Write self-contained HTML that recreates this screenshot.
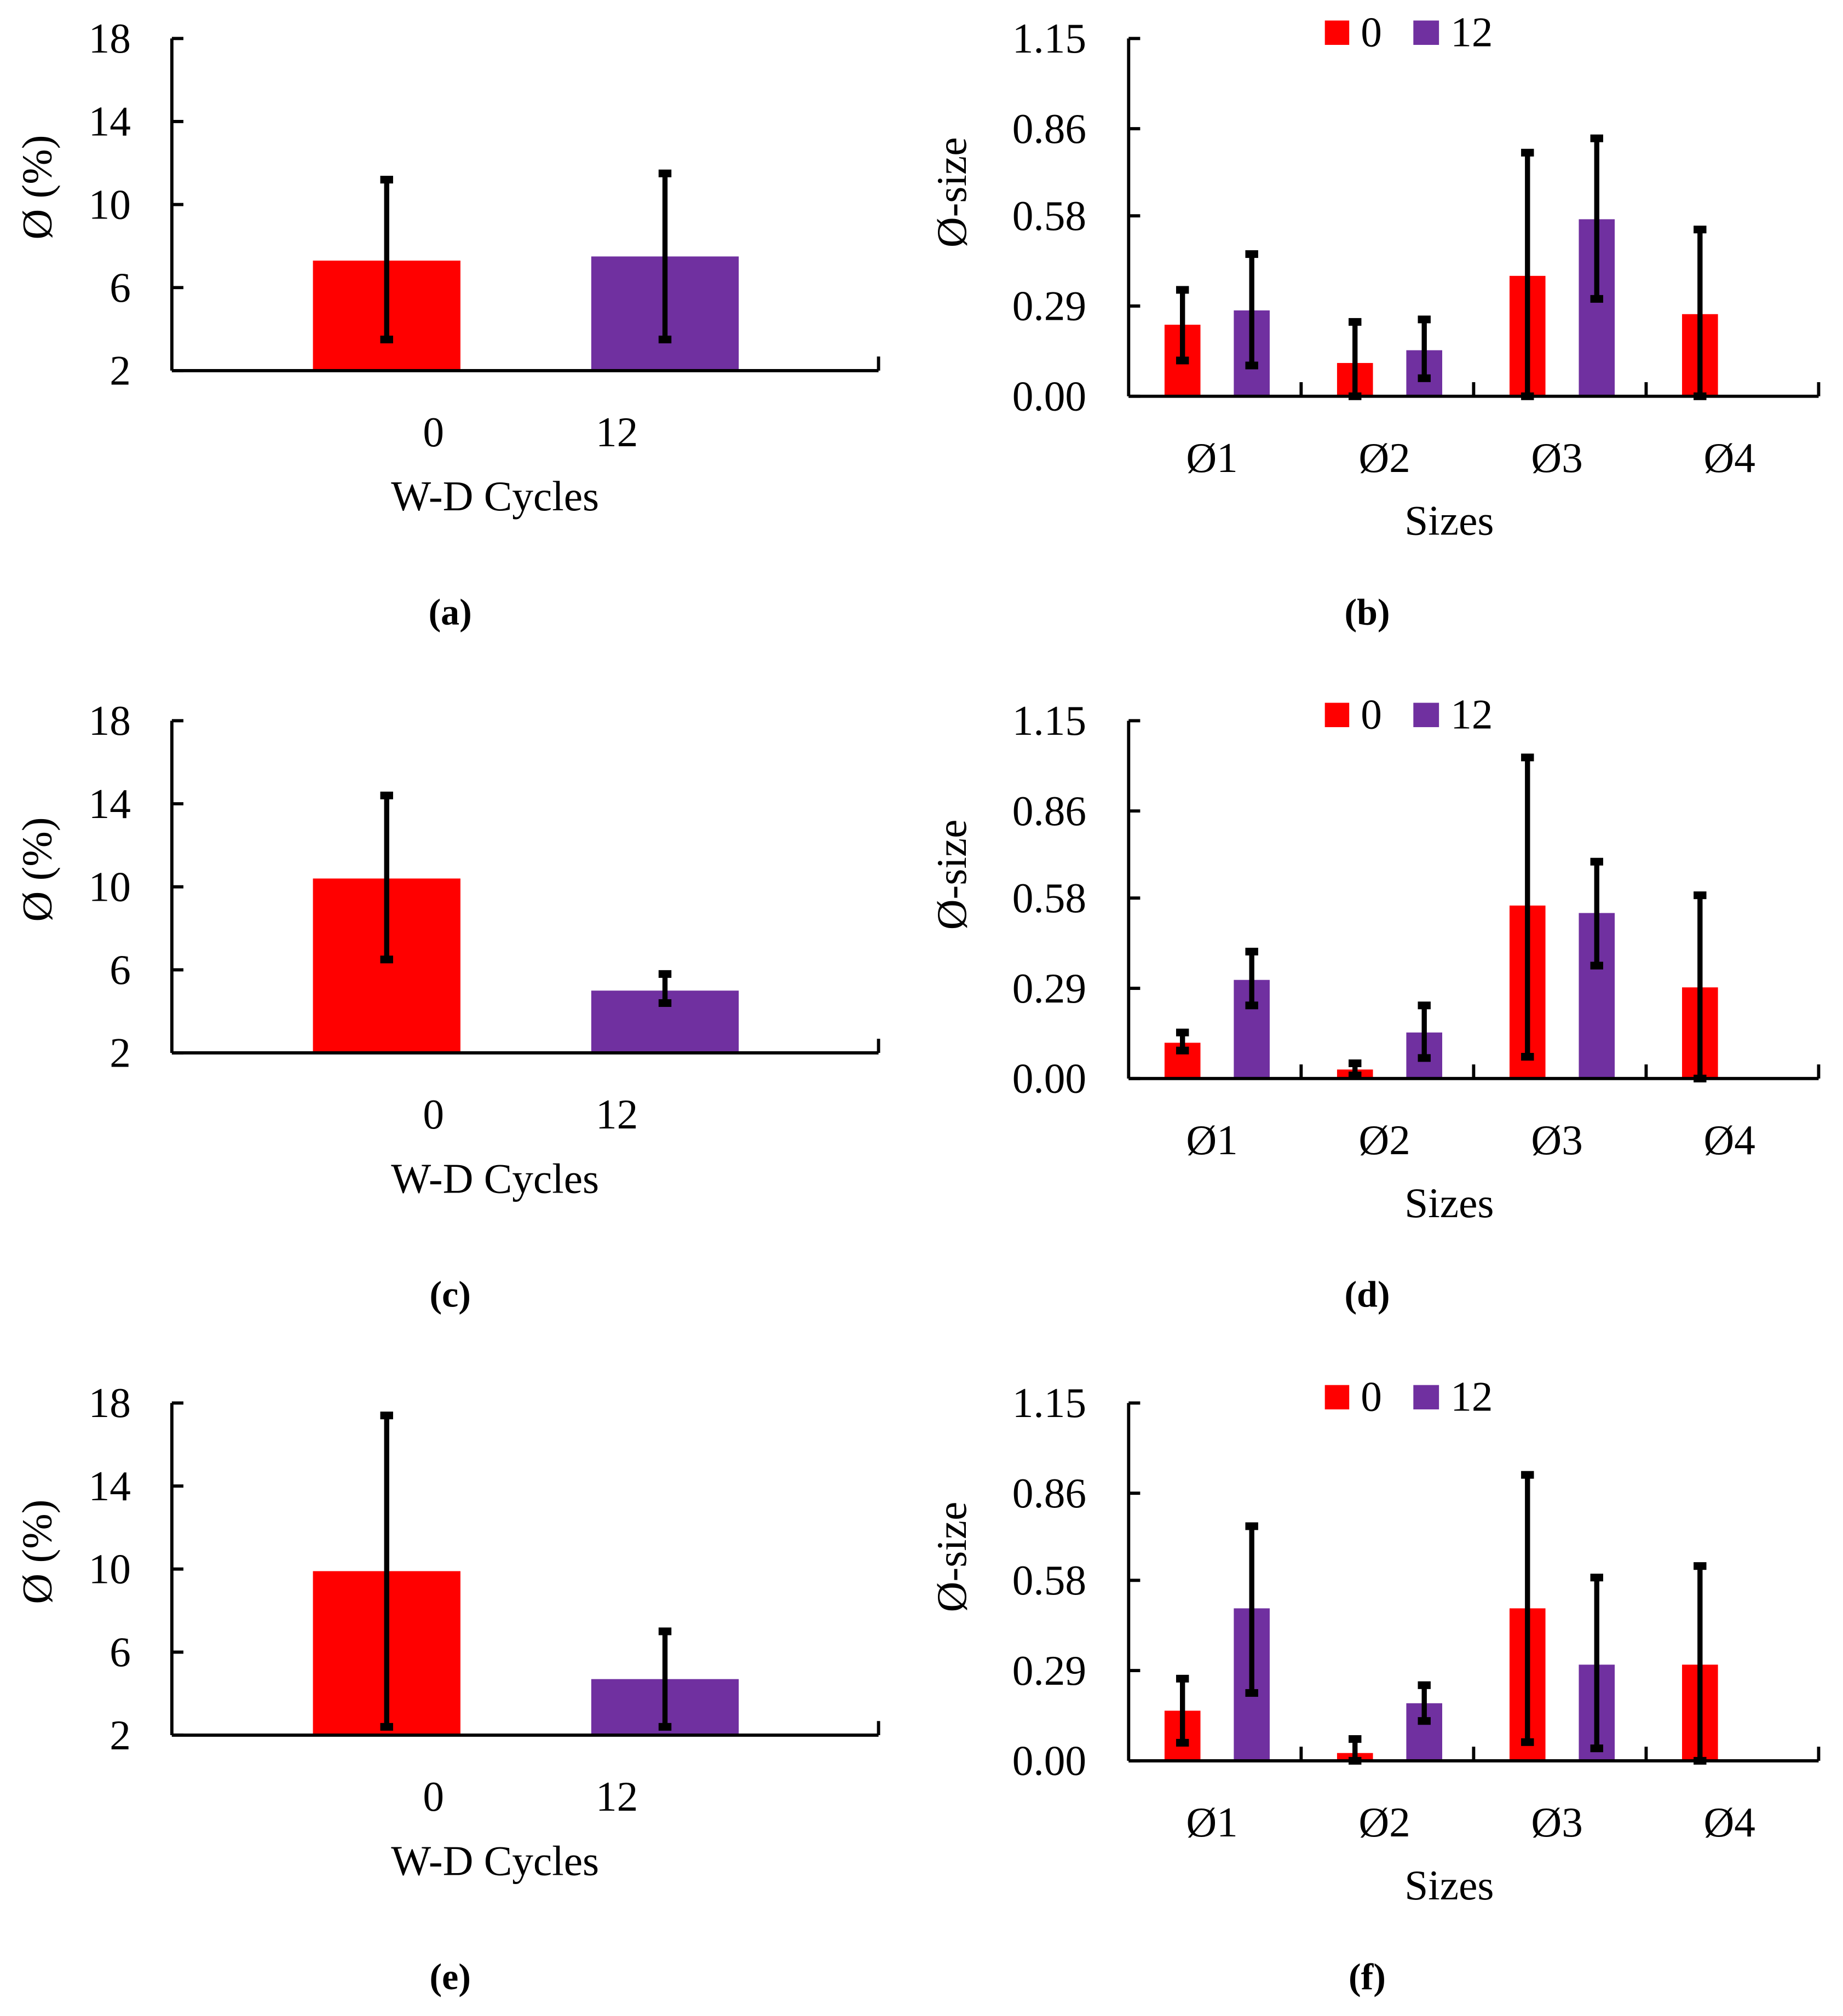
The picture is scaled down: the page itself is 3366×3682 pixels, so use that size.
<!DOCTYPE html>
<html><head><meta charset="utf-8"><style>
html,body{margin:0;padding:0;background:#fff}
svg{display:block}
text{font-family:"Liberation Serif","DejaVu Serif",serif;fill:#000}
</style></head><body>
<svg id="fig" width="3366" height="3682" viewBox="0 0 1437 1572" preserveAspectRatio="none" xmlns="http://www.w3.org/2000/svg"></svg>
<script>
// Left panels (a),(c),(e): porosity by W-D cycles
const cycleCats = ["0", "12"];
const leftTicks = [2, 6, 10, 14, 18];
const porosityA = [7.3, 7.5];
const porosityAErrLo = [3.5, 3.5];
const porosityAErrHi = [11.2, 11.5];
const porosityC = [10.4, 5.0];
const porosityCErrLo = [6.5, 4.4];
const porosityCErrHi = [14.4, 5.8];
const porosityE = [9.9, 4.7];
const porosityEErrLo = [2.4, 2.4];
const porosityEErrHi = [17.4, 7.0];
// Right panels (b),(d),(f): size distribution
const sizeCats = ["Ø1", "Ø2", "Ø3", "Ø4"];
const rightTicks = ["0.00", "0.29", "0.58", "0.86", "1.15"];
const sizeB0 = [0.23, 0.107, 0.387, 0.264];
const sizeB0Lo = [0.115, 0, 0, 0];
const sizeB0Hi = [0.342, 0.239, 0.783, 0.536];
const sizeB12 = [0.276, 0.148, 0.569, null];
const sizeB12Lo = [0.099, 0.058, 0.313, null];
const sizeB12Hi = [0.457, 0.247, 0.829, null];
const sizeD0 = [0.115, 0.029, 0.556, 0.293];
const sizeD0Lo = [0.09, 0.01, 0.07, 0];
const sizeD0Hi = [0.148, 0.049, 1.032, 0.589];
const sizeD12 = [0.317, 0.148, 0.532, null];
const sizeD12Lo = [0.235, 0.066, 0.363, null];
const sizeD12Hi = [0.408, 0.235, 0.697, null];
const sizeF0 = [0.161, 0.025, 0.49, 0.309];
const sizeF0Lo = [0.058, 0, 0.06, 0];
const sizeF0Hi = [0.264, 0.07, 0.919, 0.626];
const sizeF12 = [0.49, 0.185, 0.309, null];
const sizeF12Lo = [0.218, 0.128, 0.04, null];
const sizeF12Hi = [0.754, 0.243, 0.589, null];

const NS = "http://www.w3.org/2000/svg";
const svg = document.getElementById("fig");
const RED = "#ff0000", PUR = "#7030a0";
const FS = 33;
function mk(tag, attrs, parent, txt) {
  const e = document.createElementNS(NS, tag);
  for (const k in attrs) e.setAttribute(k, attrs[k]);
  if (txt !== undefined) e.textContent = txt;
  (parent || svg).appendChild(e);
  return e;
}
function errBar(g, x, y1, y2) {
  mk("line", {x1: x, x2: x, y1: y1, y2: y2, stroke: "#000", "stroke-width": 4}, g);
  mk("rect", {x: x - 5, y: y1 - 3, width: 10, height: 6, fill: "#000"}, g);
  mk("rect", {x: x - 5, y: y2 - 3, width: 10, height: 6, fill: "#000"}, g);
}

function leftPanel(off, vals, lo, hi, label) {
  const g = mk("g", {});
  
  
  const top = 30 + off, bot = 289 + off, x0 = 134, x1 = 685;
  const y = v => bot - (v - 2) / 16 * (bot - top);
  const bx = [244, 461], bw = 115;
  vals.forEach((v, i) => {
    const r = mk("rect", {x: bx[i], y: y(v), width: bw, height: bot - y(v), fill: i ? PUR : RED}, g);
    
    
  });
  vals.forEach((v, i) => errBar(g, bx[i] + bw / 2, y(hi[i]), y(lo[i])));
  mk("line", {x1: x0, x2: x0, y1: top, y2: bot, stroke: "#000", "stroke-width": 2.5}, g);
  mk("line", {x1: x0, x2: x1, y1: bot, y2: bot, stroke: "#000", "stroke-width": 2.5}, g);
  mk("line", {x1: x1, x2: x1, y1: bot - 11, y2: bot, stroke: "#000", "stroke-width": 2.5}, g);
  leftTicks.forEach(t => {
    mk("line", {x1: x0, x2: x0 + 9, y1: y(t), y2: y(t), stroke: "#000", "stroke-width": 2.5}, g);
    const tx = mk("text", {x: 102, y: y(t) + 11, "font-size": FS, "text-anchor": "end"}, g, t);
    
    
  });
  const xl = [338, 481];
  cycleCats.forEach((c, i) => {
    const tx = mk("text", {x: xl[i], y: 348 + off, "font-size": FS, "text-anchor": "middle"}, g, c);
    
    
  });
  const xt = mk("text", {x: 386, y: 398 + off, "font-size": FS, "text-anchor": "middle"}, g, "W-D Cycles");
  
  
  const yt = mk("text", {x: 0, y: 0, "font-size": FS, "text-anchor": "middle", transform: `translate(40 ${146 + off}) rotate(-90)`}, g, "Ø (%)");
  
  
  const cap = mk("text", {x: 351, y: 487 + off, "font-size": 29, "font-weight": "bold", "text-anchor": "middle"}, g, "(" + label + ")");
  
  
}

function rightPanel(off, v0, lo0, hi0, v12, lo12, hi12, label) {
  const g = mk("g", {});
  
  
  const top = 30 + off, bot = 309 + off, x0 = 880, x1 = 1418;
  const y = v => bot - v / 1.15 * (bot - top);
  const cw = (x1 - x0) / 4, bw = 28;
  sizeCats.forEach((c, i) => {
    const cx = x0 + cw * i;
    if (v0[i] != null) {
      const r = mk("rect", {x: cx + 28, y: y(v0[i]), width: bw, height: bot - y(v0[i]), fill: RED}, g);
      
      
    }
    if (v12[i] != null) {
      const r = mk("rect", {x: cx + 82, y: y(v12[i]), width: bw, height: bot - y(v12[i]), fill: PUR}, g);
      
      
    }
  });
  sizeCats.forEach((c, i) => {
    const cx = x0 + cw * i;
    if (v0[i] != null) errBar(g, cx + 28 + bw / 2, y(hi0[i]), y(lo0[i]));
    if (v12[i] != null) errBar(g, cx + 82 + bw / 2, y(hi12[i]), y(lo12[i]));
  });
  mk("line", {x1: x0, x2: x0, y1: top, y2: bot, stroke: "#000", "stroke-width": 2.5}, g);
  mk("line", {x1: x0, x2: x1, y1: bot, y2: bot, stroke: "#000", "stroke-width": 2.5}, g);
  for (let i = 1; i <= 4; i++) {
    const xx = x0 + cw * i;
    mk("line", {x1: xx, x2: xx, y1: bot - 11, y2: bot, stroke: "#000", "stroke-width": 2.5}, g);
  }
  rightTicks.forEach(t => {
    const yy = y(parseFloat(t));
    mk("line", {x1: x0, x2: x0 + 9, y1: yy, y2: yy, stroke: "#000", "stroke-width": 2.5}, g);
    const tx = mk("text", {x: 847, y: yy + 11, "font-size": FS, "text-anchor": "end"}, g, t);
    
    
  });
  sizeCats.forEach((c, i) => {
    const tx = mk("text", {x: x0 + cw * i + 65, y: 368 + off, "font-size": FS, "text-anchor": "middle"}, g, c);
    
    
  });
  const xt = mk("text", {x: 1130, y: 417 + off, "font-size": FS, "text-anchor": "middle"}, g, "Sizes");
  
  
  const yt = mk("text", {x: 0, y: 0, "font-size": FS, "text-anchor": "middle", transform: `translate(753 ${150 + off}) rotate(-90)`}, g, "Ø-size");
  
  
  const l1 = mk("rect", {x: 1033, y: 16 + off, width: 19, height: 19, fill: RED}, g);
  
  
  const lt1 = mk("text", {x: 1061, y: 36 + off, "font-size": FS}, g, "0");
  
  
  const l2 = mk("rect", {x: 1102, y: 16 + off, width: 20, height: 19, fill: PUR}, g);
  
  
  const lt2 = mk("text", {x: 1131, y: 36 + off, "font-size": FS}, g, "12");
  
  
  const cap = mk("text", {x: 1066, y: 487 + off, "font-size": 29, "font-weight": "bold", "text-anchor": "middle"}, g, "(" + label + ")");
  
  
}

leftPanel(0, porosityA, porosityAErrLo, porosityAErrHi, "a");
leftPanel(532, porosityC, porosityCErrLo, porosityCErrHi, "c");
leftPanel(1064, porosityE, porosityEErrLo, porosityEErrHi, "e");
rightPanel(0, sizeB0, sizeB0Lo, sizeB0Hi, sizeB12, sizeB12Lo, sizeB12Hi, "b");
rightPanel(532, sizeD0, sizeD0Lo, sizeD0Hi, sizeD12, sizeD12Lo, sizeD12Hi, "d");
rightPanel(1064, sizeF0, sizeF0Lo, sizeF0Hi, sizeF12, sizeF12Lo, sizeF12Hi, "f");
</script>
</body></html>
